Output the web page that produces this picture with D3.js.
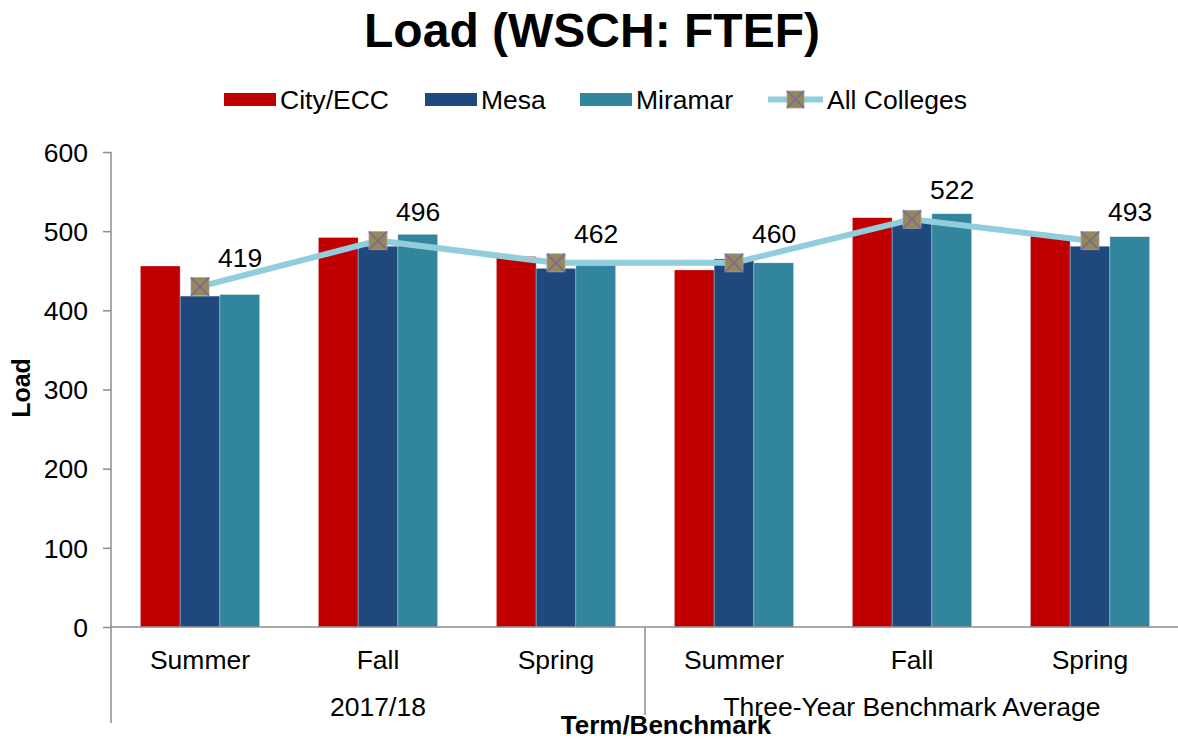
<!DOCTYPE html>
<html>
<head>
<meta charset="utf-8">
<script src="https://cdn.jsdelivr.net/npm/d3@7"></script>
<style>
  body { margin: 0; background: #fff; }
  svg text { font-family: "Liberation Sans", Arial, sans-serif; fill: #000; }
</style>
</head>
<body>
<svg id="svg" width="1178" height="740"></svg>
<script>
// data
const terms = ["Summer", "Fall", "Spring", "Summer", "Fall", "Spring"];
const groups = ["2017/18", "Three-Year Benchmark Average"];
const seriesNames = ["City/ECC", "Mesa", "Miramar"];
const cityEcc = [456, 492, 468, 451, 517, 494];
const mesa = [418, 481, 453, 465, 512, 481];
const miramar = [420, 496, 457, 460, 522, 493];
const allColleges = [430, 488, 460, 460, 515, 488];
const pointLabels = [419, 496, 462, 460, 522, 493];
const yTicks = [0, 100, 200, 300, 400, 500, 600];
const colors = ["#C00000", "#1F497D", "#31859C"];

const svg = d3.select("svg#svg");
const plotLeft = 111, plotRight = 1179, plotTop = 152, plotBottom = 627;
const fs = "26.5px";

const x0 = d3.scaleBand().domain(d3.range(terms.length)).range([plotLeft, plotRight])
    .paddingInner(0.33).paddingOuter(0.165);
const x1 = d3.scaleBand().domain(seriesNames).range([0, x0.bandwidth()]);
const y = d3.scaleLinear().domain([0, 600]).range([plotBottom, plotTop]);

const rows = terms.map((t, i) => ({i: i, vals: [cityEcc[i], mesa[i], miramar[i]]}));

// title
svg.append("text").attr("x", 592).attr("y", 47).attr("text-anchor", "middle")
    .style("font-size", "48px").style("font-weight", "bold").text("Load (WSCH: FTEF)");

// bars
const g = svg.append("g");
g.selectAll("g.grp").data(rows).enter().append("g").attr("class", "grp")
    .attr("transform", d => `translate(${x0(d.i)},0)`)
    .selectAll("rect").data(d => d.vals.map((v, k) => ({k: k, v: v}))).enter()
    .append("rect")
    .attr("x", d => x1(seriesNames[d.k]))
    .attr("width", x1.bandwidth())
    .attr("y", d => y(d.v))
    .attr("height", d => y(0) - y(d.v))
    .attr("fill", d => colors[d.k])
    .attr("stroke", "#ffffff").attr("stroke-opacity", 0.5).attr("stroke-width", 0.6);

// y axis
const yAxis = svg.append("g").attr("transform", `translate(${plotLeft},0)`)
    .call(d3.axisLeft(y).tickValues(yTicks).tickSize(8).tickPadding(15));
yAxis.select(".domain").remove();
yAxis.selectAll("line").attr("stroke", "#8c8c8c").attr("stroke-width", 1.5);
yAxis.selectAll("text").style("font-size", fs).attr("dy", "0.35em");
svg.append("line").attr("x1", plotLeft).attr("x2", plotLeft).attr("y1", plotTop).attr("y2", 723)
    .attr("stroke", "#8c8c8c").attr("stroke-width", 1.5);

// x axis
svg.append("line").attr("x1", plotLeft).attr("x2", 1178).attr("y1", plotBottom).attr("y2", plotBottom)
    .attr("stroke", "#8c8c8c").attr("stroke-width", 1.5);
const sepX = (x0(2) + x0.bandwidth() + x0(3)) / 2;
svg.append("line").attr("x1", sepX).attr("x2", sepX).attr("y1", plotBottom).attr("y2", 715)
    .attr("stroke", "#8c8c8c").attr("stroke-width", 1.5);

svg.selectAll("text.term").data(terms).enter().append("text").attr("class", "term")
    .attr("x", (d, i) => x0(i) + x0.bandwidth() / 2).attr("y", 669)
    .attr("text-anchor", "middle").style("font-size", fs).text(d => d);

svg.selectAll("text.group").data(groups).enter().append("text").attr("class", "group")
    .attr("x", (d, i) => (x0(i * 3) + x0(i * 3 + 2) + x0.bandwidth()) / 2).attr("y", 716)
    .attr("text-anchor", "middle").style("font-size", fs).text(d => d);

svg.append("text").attr("x", 666).attr("y", 734).attr("text-anchor", "middle")
    .style("font-size", "26px").style("font-weight", "bold").text("Term/Benchmark");

svg.append("text").attr("transform", "translate(30,388) rotate(-90)").attr("text-anchor", "middle")
    .style("font-size", "25px").style("font-weight", "bold").text("Load");

// all colleges line
const cx = i => x0(i) + x0.bandwidth() / 2;
const line = d3.line().x((d, i) => cx(i)).y(d => y(d));
svg.append("path").datum(allColleges).attr("d", line)
    .attr("fill", "none").attr("stroke", "#92CDDC").attr("stroke-width", 6);

function marker(sel, size) {
    const h = size / 2;
    sel.append("rect").attr("x", -h).attr("y", -h).attr("width", size).attr("height", size)
        .attr("fill", "#948A54").attr("stroke", "#a89cb4").attr("stroke-width", 0.8);
    sel.append("path").attr("d", `M${-h},${-h}L${h},${h}M${h},${-h}L${-h},${h}`)
        .attr("stroke", "#8064A2").attr("stroke-width", 1.6);
}
svg.selectAll("g.mark").data(allColleges).enter().append("g").attr("class", "mark")
    .attr("transform", (d, i) => `translate(${cx(i)},${y(d)})`)
    .call(marker, 18);

svg.selectAll("text.lbl").data(pointLabels).enter().append("text").attr("class", "lbl")
    .attr("x", (d, i) => cx(i) + 18).attr("y", (d, i) => y(allColleges[i]) - 20)
    .style("font-size", fs).text(d => d);

// legend
const leg = svg.append("g");
const legX = [224, 425, 580];
seriesNames.forEach((name, k) => {
    leg.append("rect").attr("x", legX[k]).attr("y", 93).attr("width", 52).attr("height", 13)
        .attr("fill", colors[k]);
    leg.append("text").attr("x", legX[k] + 56).attr("y", 109).style("font-size", fs).text(name);
});
leg.append("line").attr("x1", 768).attr("x2", 823).attr("y1", 99.5).attr("y2", 99.5)
    .attr("stroke", "#92CDDC").attr("stroke-width", 6);
leg.append("g").attr("transform", "translate(795.5,99.5)").call(marker, 17);
leg.append("text").attr("x", 827).attr("y", 109).style("font-size", fs).text("All Colleges");
</script>
</body>
</html>
